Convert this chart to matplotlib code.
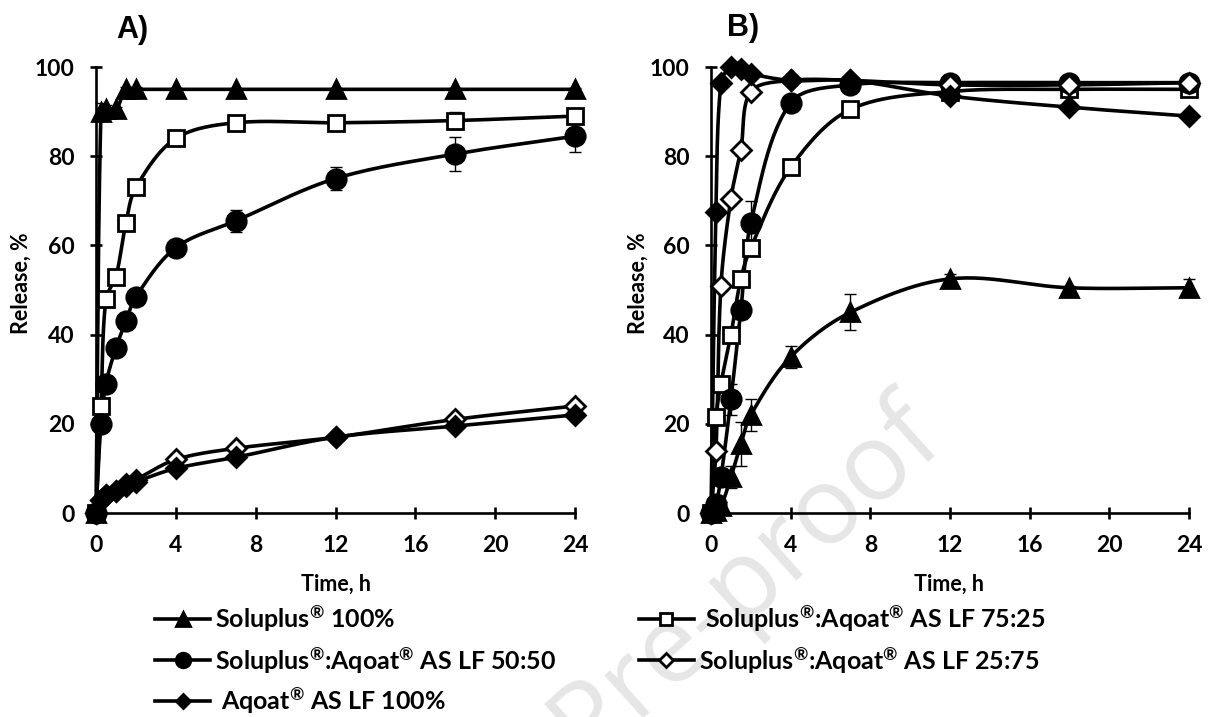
import numpy as np
import matplotlib
matplotlib.use('Agg')
from matplotlib import pyplot as plt
from matplotlib.lines import Line2D

plt.rcParams['font.family'] = ['Lato', 'DejaVu Sans']
plt.rcParams['font.weight'] = 'bold'
plt.rcParams['mathtext.fontset'] = 'custom'
plt.rcParams['mathtext.rm'] = 'Lato:bold'
plt.rcParams['mathtext.it'] = 'Lato:bold'
plt.rcParams['mathtext.bf'] = 'Lato:bold'

# sampling times, h
t = [0, 0.25, 0.5, 1, 1.5, 2, 4, 7, 12, 18, 24]

# panel A release, %
a_sol100 = [0, 90, 90.5, 90.5, 95, 95, 95, 95, 95, 95, 95]
a_7525 = [0, 24, 48, 53, 65, 73, 84, 87.5, 87.5, 88, 89]
a_5050 = [0, 20, 29, 37, 43, 48.5, 59.5, 65.5, 75, 80.5, 84.5]
a_2575 = [0, 3, 4, 5, 6.5, 7.5, 12, 14.5, 17, 21, 24]
a_aq100 = [0, 3, 4, 5, 6, 7, 10, 12.5, 17, 19.5, 22]
a_sol100_err = [0, 2, 1, 0.5, 0.5, 0.5, 0.3, 0.3, 0.3, 0.3, 0.3]
a_7525_err = [0, 1, 1, 1, 1, 1, 0.8, 1.5, 1.2, 2, 1]
a_5050_err = [0, 1, 1, 1, 1, 1, 0.8, 2.5, 2.5, 3.8, 3.5]
a_2575_err = [0, 0.3, 0.3, 0.3, 0.3, 0.3, 0.5, 0.5, 0.5, 0.5, 0.5]
a_aq100_err = [0, 0.3, 0.3, 0.3, 0.3, 0.3, 0.5, 0.5, 0.5, 0.5, 0.5]

# panel B release, %
b_sol100 = [0, 0.5, 1.5, 8, 15.5, 22, 35, 45, 52.5, 50.5, 50.5]
b_7525 = [0, 21.5, 29, 40, 52.5, 59.5, 77.5, 90.5, 94.5, 95, 95]
b_5050 = [0, 2, 8, 25.5, 45.5, 65, 92, 96, 96.5, 96.5, 96.5]
b_2575 = [0, 14, 51, 70.5, 81.5, 94.5, 97, 97, 96, 96, 96.5]
b_aq100 = [0, 67.5, 96.5, 100, 99.5, 98.5, 97, 97, 93.5, 91, 89]
b_sol100_err = [0, 0.5, 1, 2.5, 5, 3.5, 2.5, 4, 1, 0.5, 2]
b_7525_err = [0, 1.5, 1, 1, 1, 1, 0.8, 0.8, 0.5, 0.5, 0.5]
b_5050_err = [0, 0.5, 1, 3.5, 2, 5, 0.5, 0.5, 0.5, 0.5, 0.5]
b_2575_err = [0, 0.5, 1, 1, 1, 1, 0.5, 0.5, 0.5, 0.5, 0.5]
b_aq100_err = [0, 0.5, 0.5, 0.5, 0.5, 0.5, 0.5, 0.5, 0.5, 0.5, 0.5]

labels = ['Soluplus$^{®}$ 100%',
          ' Soluplus$^{®}$:Aqoat$^{®}$ AS LF 75:25',
          'Soluplus$^{®}$:Aqoat$^{®}$ AS LF 50:50',
          'Soluplus$^{®}$:Aqoat$^{®}$ AS LF 25:75',
          ' Aqoat$^{®}$ AS LF 100%']
markers = ['^', 's', 'o', 'D', 'D']
faces = ['black', 'white', 'black', 'white', 'black']
msizes = [13, 12, 14, 10, 10]


def smooth(x, y, sx, sy, n=30):
    # Excel style smoothed line: bezier segments, tangents weighted by segment length
    p = np.column_stack([np.asarray(x) * sx, np.asarray(y) * sy])
    p = np.vstack([p[0], p, p[-1]])
    out = []
    s = np.linspace(0, 1, n)[:, None]
    for i in range(1, len(p) - 2):
        p0, p1, p2, p3 = p[i - 1], p[i], p[i + 1], p[i + 2]
        d01 = np.hypot(*(p1 - p0))
        d12 = np.hypot(*(p2 - p1))
        d23 = np.hypot(*(p3 - p2))
        f1 = d12 / (d01 + d12) / 3 if d01 + d12 > 0 else 0
        f2 = d12 / (d12 + d23) / 3 if d12 + d23 > 0 else 0
        c1 = p1 + (p2 - p0) * f1
        c2 = p2 - (p3 - p1) * f2
        seg = (1 - s) ** 3 * p1 + 3 * (1 - s) ** 2 * s * c1 + 3 * (1 - s) * s ** 2 * c2 + s ** 3 * p2
        out.append(seg)
    out = np.vstack(out)
    return out[:, 0] / sx, out[:, 1] / sy


fig = plt.figure(figsize=(12.1, 7.17), dpi=100)

fig.text(0.785, 0.372, 'Journal Pre-proof', fontsize=78, color='#e6e6e6', fontweight='normal',
         family=['Open Sans', 'DejaVu Sans'], rotation=42, rotation_mode='anchor',
         ha='right', va='baseline', zorder=-5)

axA = fig.add_axes([0.0793, 0.2845, 0.396, 0.622])
axB = fig.add_axes([0.5876, 0.2845, 0.395, 0.622])

seriesA = [(a_sol100, a_sol100_err), (a_7525, a_7525_err), (a_5050, a_5050_err),
           (a_2575, a_2575_err), (a_aq100, a_aq100_err)]
seriesB = [(b_sol100, b_sol100_err), (b_7525, b_7525_err), (b_5050, b_5050_err),
           (b_2575, b_2575_err), (b_aq100, b_aq100_err)]

for ax, series in [(axA, seriesA), (axB, seriesB)]:
    ax.set_facecolor('none')
    for i, (y, e) in enumerate(series):
        xs, ys = smooth(t, y, 479 / 24, 446 / 100)
        ax.plot(xs, ys, '-', color='black', lw=2.6, zorder=2, clip_on=False)
        ax.errorbar(t, y, yerr=e, fmt='none', ecolor='black', elinewidth=1, capsize=4,
                    capthick=1, zorder=3, clip_on=False)
        ax.plot(t, y, linestyle='none', marker=markers[i], ms=msizes[i], mfc=faces[i],
                mec='black', mew=2, zorder=4, clip_on=False)
    ax.set_xlim(0, 24)
    ax.set_ylim(0, 100)
    ax.set_xticks(range(0, 25, 4))
    ax.set_yticks(range(0, 101, 20))
    ax.spines['top'].set_visible(False)
    ax.spines['right'].set_visible(False)
    for sp in ['left', 'bottom']:
        ax.spines[sp].set_linewidth(1.9)
    ax.tick_params(direction='inout', length=9, width=1.9, pad=11, labelsize=16.5)
    ax.set_xlabel('Time, h', fontsize=15.5, fontweight='bold')
    ax.set_ylabel('Release, %', fontsize=15.5, fontweight='bold')

axA.xaxis.set_label_coords(0.50, -0.137)
axB.xaxis.set_label_coords(0.498, -0.137)
axA.yaxis.set_label_coords(-0.134, 0.515)
axB.yaxis.set_label_coords(-0.130, 0.515)

fig.text(132 / 1210, 1 - 30 / 717, 'A)', fontsize=22, fontweight='bold',
         family=['Liberation Sans', 'DejaVu Sans'], ha='center', va='center')
fig.text(743 / 1210, 1 - 28 / 717, 'B)', fontsize=22, fontweight='bold',
         family=['Liberation Sans', 'DejaVu Sans'], ha='center', va='center')

handles = []
for i in range(5):
    handles.append(Line2D([], [], color='black', lw=2.6, marker=markers[i],
                          ms=msizes[i] * 0.75, mfc=faces[i], mec='black', mew=2))
order = [0, 2, 4, 1, 3]
fig.legend([handles[i] for i in order], [labels[i] for i in order],
           loc='upper left', bbox_to_anchor=(155 / 1210, 1 - 604 / 717), ncol=2,
           frameon=False, fontsize=18, handlelength=2.2, handletextpad=0.2,
           labelspacing=0.42, columnspacing=3.3, borderpad=0, borderaxespad=0)

fig.savefig('out.png', dpi=100)
